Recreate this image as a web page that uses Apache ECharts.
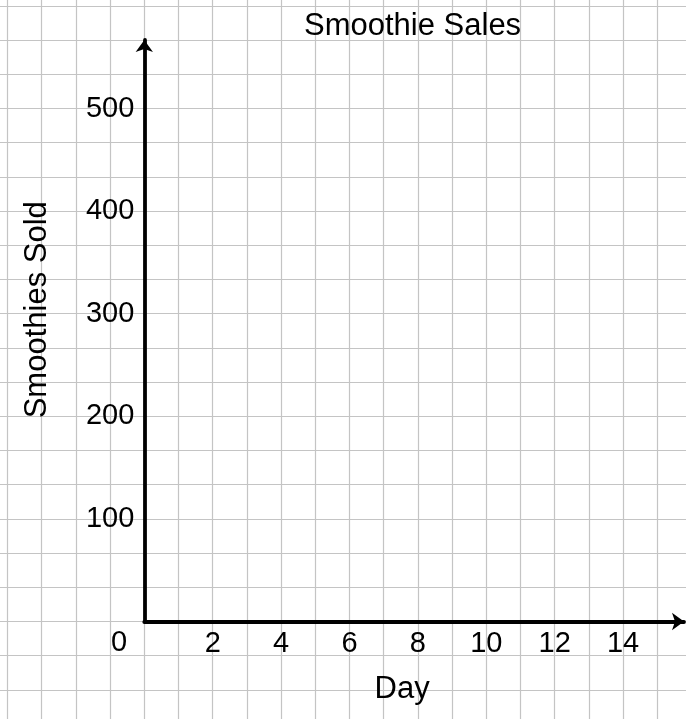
<!DOCTYPE html>
<html>
<head>
<meta charset="utf-8">
<title>Smoothie Sales</title>
<script src="https://cdn.jsdelivr.net/npm/echarts@6/dist/echarts.min.js"></script>
<style>
  html, body { margin: 0; padding: 0; background: #fff; }
  #chartBox { width: 686px; height: 719px; }
</style>
</head>
<body>
<div id="chartBox"></div>
<script>
// blank graph: no points plotted yet
var days = [];
var smoothiesSold = [];
var xTickLabels = [2, 4, 6, 8, 10, 12, 14];
var yTickLabels = [100, 200, 300, 400, 500];
var originLabel = '0';

var FONT = 'Liberation Sans, Arial, sans-serif';
var CELL = 34.2;            // graph paper square, px
var X0 = 144.3, Y0 = 621.5; // origin on screen

var chart = echarts.init(document.getElementById('chartBox'));

var paperLine = { show: true, lineStyle: { color: '#c4c4c4', width: 1.2 } };
var hidden = { show: false };

var option = {
  animation: false,
  backgroundColor: '#fff',
  title: {
    text: 'Smoothie Sales',
    left: 299,
    top: 6,
    textStyle: { color: '#000', fontSize: 31, fontWeight: 'normal', fontFamily: FONT }
  },
  grid: [
    // main axes
    { left: X0, top: 40, right: 2, bottom: 719 - Y0 },
    // graph paper: vertical lines, full height
    { left: X0 - 4 * CELL, right: 686 - (X0 + 15 * CELL), top: 0, bottom: 0 },
    // graph paper: horizontal lines, full width
    { left: 0, right: 0, top: Y0 - 18 * CELL, bottom: 719 - (Y0 + 2 * CELL) }
  ],
  xAxis: [
    {
      type: 'value',
      gridIndex: 0,
      min: 0,
      max: (686 - 2 - X0) / CELL,
      interval: 2,
      name: 'Day',
      nameLocation: 'middle',
      nameGap: 52,
      nameTextStyle: { color: '#000', fontSize: 31, fontFamily: FONT, padding: [0, 24, 0, 0] },
      axisLine: {
        onZero: false,
        symbol: ['none', 'arrow'],
        symbolSize: [13, 12],
        lineStyle: { color: '#000', width: 3.8 }
      },
      axisTick: hidden,
      splitLine: hidden,
      axisLabel: {
        margin: 8,
        color: '#000',
        fontSize: 29,
        fontFamily: FONT,
        showMinLabel: false,
        showMaxLabel: false,
        formatter: function (v) { return xTickLabels.indexOf(v) > -1 ? String(v) : ''; }
      },
      z: 5
    },
    {
      type: 'value', gridIndex: 1, min: -4, max: 15, interval: 1,
      axisLine: hidden, axisTick: hidden, axisLabel: hidden, splitLine: paperLine
    },
    {
      type: 'value', gridIndex: 2, min: 0, max: 1,
      axisLine: hidden, axisTick: hidden, axisLabel: hidden, splitLine: hidden
    }
  ],
  yAxis: [
    {
      type: 'value',
      gridIndex: 0,
      min: 0,
      max: (Y0 - 40) / (3 * CELL) * 100,
      interval: 100,
      name: 'Smoothies Sold',
      nameLocation: 'middle',
      nameGap: 91,
      nameRotate: 90,
      nameTextStyle: { color: '#000', fontSize: 31, fontFamily: FONT, padding: [0, 0, 0, 42] },
      axisLine: {
        onZero: false,
        symbol: ['none', 'arrow'],
        symbolSize: [13, 12],
        lineStyle: { color: '#000', width: 3.8 }
      },
      axisTick: hidden,
      splitLine: hidden,
      axisLabel: {
        margin: 10,
        color: '#000',
        fontSize: 29,
        fontFamily: FONT,
        showMinLabel: false,
        showMaxLabel: false,
        formatter: function (v) { return yTickLabels.indexOf(v) > -1 ? String(v) : ''; }
      },
      z: 5
    },
    {
      type: 'value', gridIndex: 1, min: 0, max: 1,
      axisLine: hidden, axisTick: hidden, axisLabel: hidden, splitLine: hidden
    },
    {
      type: 'value', gridIndex: 2, min: -2, max: 18, interval: 1,
      axisLine: hidden, axisTick: hidden, axisLabel: hidden, splitLine: paperLine
    }
  ],
  graphic: [
    {
      type: 'text',
      left: 111,
      top: 628,
      style: { text: originLabel, fill: '#000', fontSize: 29, fontFamily: FONT }
    }
  ],
  series: [
    {
      name: 'Smoothies Sold',
      type: 'line',
      xAxisIndex: 0,
      yAxisIndex: 0,
      data: days.map(function (d, i) { return [d, smoothiesSold[i]]; }),
      lineStyle: { color: '#000' },
      itemStyle: { color: '#000' }
    }
  ]
};

chart.setOption(option);
</script>
</body>
</html>
